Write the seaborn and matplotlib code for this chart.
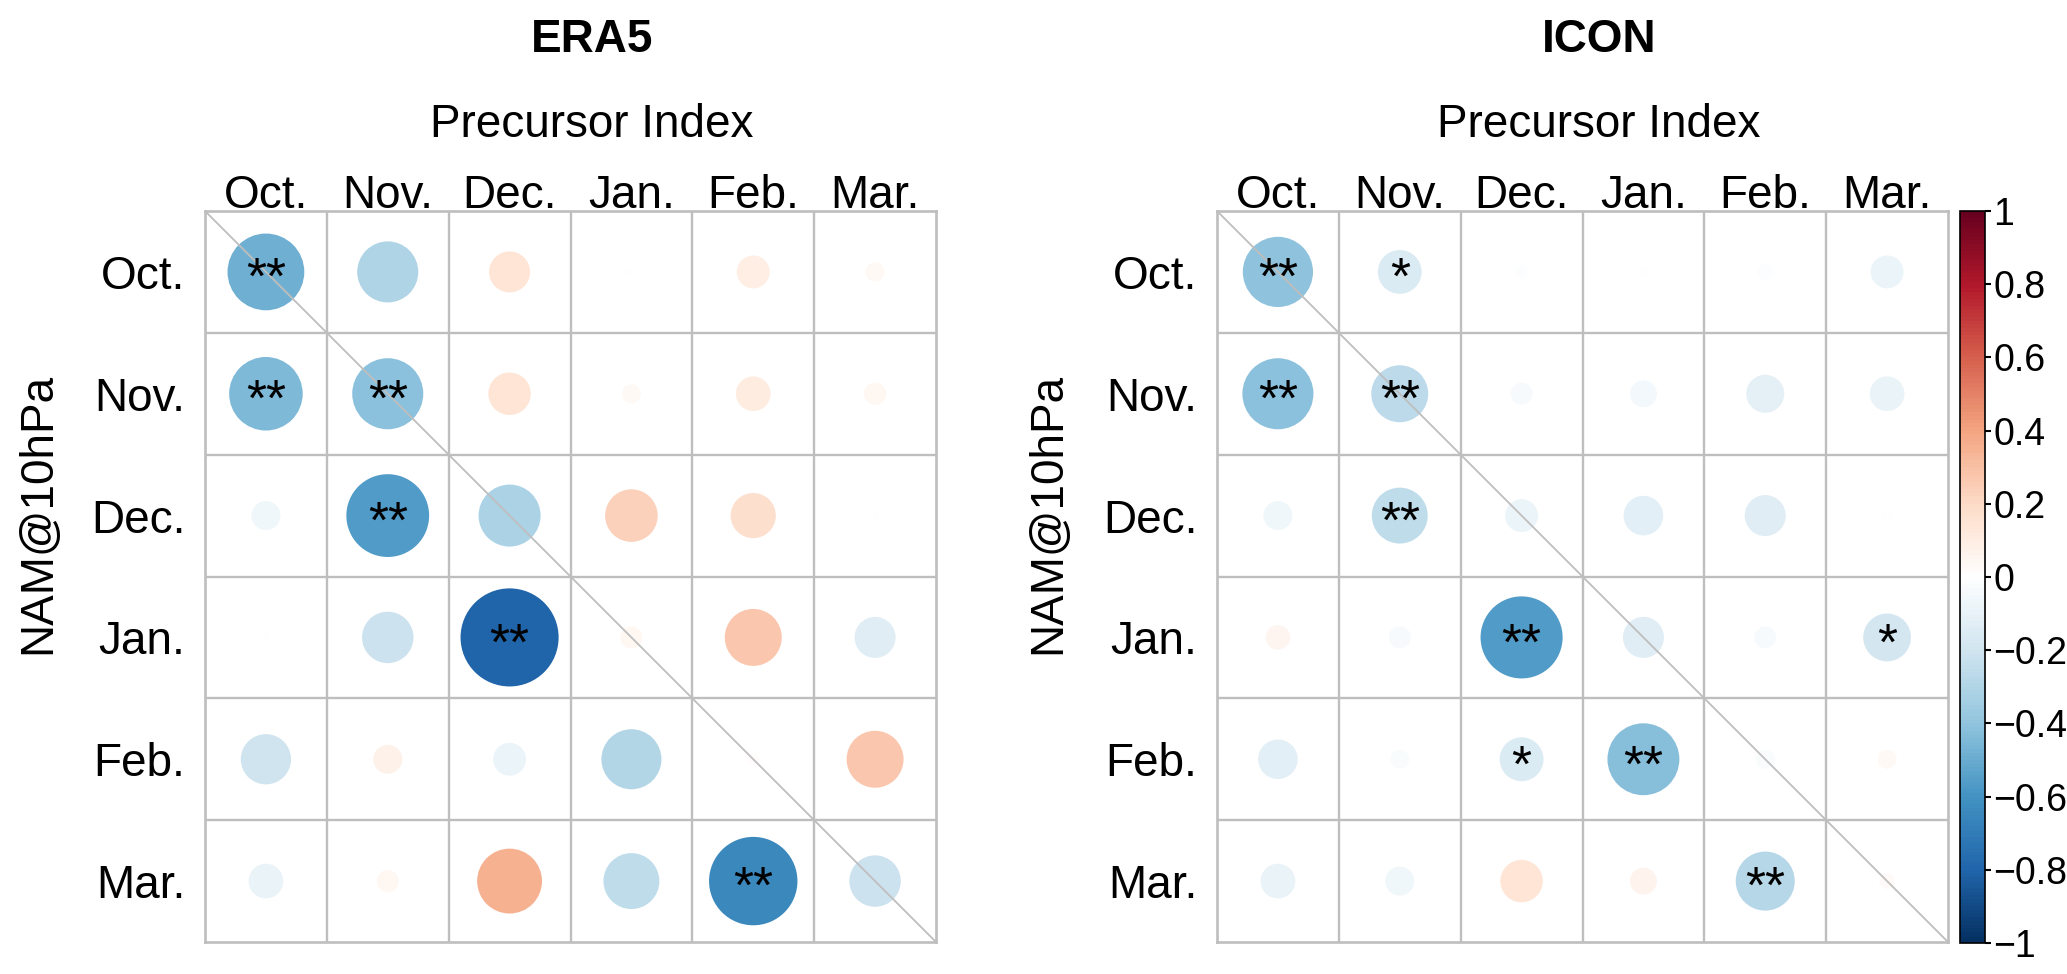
import numpy as np
import pandas as pd
import matplotlib
matplotlib.use("Agg")
import matplotlib.pyplot as plt
import seaborn as sns
from matplotlib.colors import LinearSegmentedColormap, Normalize
from matplotlib.cm import ScalarMappable

# dados
months = ["Oct.", "Nov.", "Dec.", "Jan.", "Feb.", "Mar."]

# linhas = NAM@10hPa, colunas = Precursor Index
era5_r = [
    [-0.49, -0.31, 0.14, 0.005, 0.09, 0.03],
    [-0.45, -0.42, 0.15, 0.03, 0.10, 0.04],
    [-0.07, -0.57, -0.32, 0.23, 0.17, 0.003],
    [-0.005, -0.22, -0.80, 0.04, 0.27, -0.14],
    [-0.21, 0.07, -0.09, -0.30, 0.01, 0.27],
    [-0.10, 0.04, 0.35, -0.26, -0.65, -0.22],
]
era5_sig = [
    ["**", "", "", "", "", ""],
    ["**", "**", "", "", "", ""],
    ["", "**", "", "", "", ""],
    ["", "", "**", "", "", ""],
    ["", "", "", "", "", ""],
    ["", "", "", "", "**", ""],
]

icon_r = [
    [-0.41, -0.16, -0.014, -0.005, -0.02, -0.09],
    [-0.42, -0.27, -0.04, -0.06, -0.12, -0.10],
    [-0.07, -0.26, -0.09, -0.13, -0.14, -0.01],
    [0.05, -0.04, -0.56, -0.14, -0.04, -0.19],
    [-0.13, -0.03, -0.16, -0.43, -0.03, 0.03],
    [-0.10, -0.07, 0.15, 0.06, -0.29, 0.02],
]
icon_sig = [
    ["**", "*", "", "", "", ""],
    ["**", "**", "", "", "", ""],
    ["", "**", "", "", "", ""],
    ["", "", "**", "", "", "*"],
    ["", "", "*", "**", "", ""],
    ["", "", "", "", "**", ""],
]

cbar_ticks = [1, 0.8, 0.6, 0.4, 0.2, 0, -0.2, -0.4, -0.6, -0.8, -1]

# paleta RdBu do corrplot (de -1 a 1)
col2 = ["#053061", "#2166AC", "#4393C3", "#92C5DE", "#D1E5F0", "#FFFFFF",
        "#FDDBC7", "#F4A582", "#D6604D", "#B2182B", "#67001F"]
cmap = LinearSegmentedColormap.from_list("col2", col2, N=200)
norm = Normalize(-1, 1)

sns.set_theme(style="white")
plt.rcParams["font.family"] = ["Liberation Sans", "DejaVu Sans"]
for k in ["text.color", "axes.labelcolor", "xtick.color", "ytick.color",
          "xtick.labelcolor", "ytick.labelcolor"]:
    plt.rcParams[k] = "black"

W, H = 2067, 974
fig = plt.figure(figsize=(W / 100, H / 100), dpi=100)

grid_col = "#BEBEBE"
fs = 33


def painel(left_px, r, sig, title, title_x, ylab_x):
    ax = fig.add_axes([left_px / W, (H - 942) / H, 731 / W, 731 / H])
    n = len(months)
    df = pd.DataFrame({
        "row": np.repeat(np.arange(n), n),
        "col": np.tile(np.arange(n), n),
        "r": np.array(r).ravel(),
    })
    df["abs_r"] = df["r"].abs()

    # tamanho da célula em pontos -> área máxima do círculo (diâmetro 0.9 célula)
    cell_pt = 731 / n * 72 / 100
    s_full = (0.9 * cell_pt) ** 2

    sns.scatterplot(data=df, x="col", y="row", hue="r", palette=cmap, hue_norm=norm,
                    size="abs_r", sizes=(0, s_full), size_norm=(0, 1),
                    linewidth=0, legend=False, ax=ax, zorder=2)

    ax.set_xlim(-0.5, n - 0.5)
    ax.set_ylim(n - 0.5, -0.5)

    for k in range(1, n):
        ax.axhline(k - 0.5, color=grid_col, lw=1.7, zorder=1)
        ax.axvline(k - 0.5, color=grid_col, lw=1.7, zorder=1)
    for sp in ax.spines.values():
        sp.set_color(grid_col)
        sp.set_linewidth(1.9)
    ax.plot([-0.5, n - 0.5], [-0.5, n - 0.5], color=grid_col, lw=1.3, zorder=3)

    for i in range(n):
        for j in range(n):
            if sig[i][j]:
                ax.text(j, i + 0.07, sig[i][j], ha="center", va="center",
                        fontsize=37, color="black", zorder=4)

    ax.xaxis.tick_top()
    ax.set_xticks(range(n))
    ax.set_xticklabels(months)
    ax.set_yticks(range(n))
    ax.set_yticklabels(months)
    ax.tick_params(axis="x", length=0, pad=-5, labelsize=fs)
    ax.tick_params(axis="y", length=0, pad=14, labelsize=fs)
    ax.set_xlabel("")
    ax.set_ylabel("")

    fig.text(title_x / W, 1 - 40 / H, title, ha="center", va="center",
             fontsize=fs, fontweight="bold")
    fig.text(title_x / W, 1 - 125 / H, "Precursor Index", ha="center", va="center",
             fontsize=fs)
    fig.text(ylab_x / W, 1 - 513 / H, "NAM@10hPa", ha="center", va="center",
             rotation=90, fontsize=fs)
    return ax


painel(205, era5_r, era5_sig, "ERA5", 592, 38)
painel(1217, icon_r, icon_sig, "ICON", 1599, 1048)

# barra de cores
cax = fig.add_axes([1960 / W, (H - 943) / H, 25 / W, 732 / H])
cb = fig.colorbar(ScalarMappable(norm=norm, cmap=cmap), cax=cax, ticks=cbar_ticks)
cb.set_ticklabels([f"{t:g}".replace("-", "\u2212") for t in cbar_ticks])
cb.outline.set_edgecolor("black")
cb.outline.set_linewidth(1.2)
cax.tick_params(axis="y", length=4, width=1.5, direction="out", color="black",
                labelsize=27, pad=2)

fig.savefig("out.png", dpi=100)
